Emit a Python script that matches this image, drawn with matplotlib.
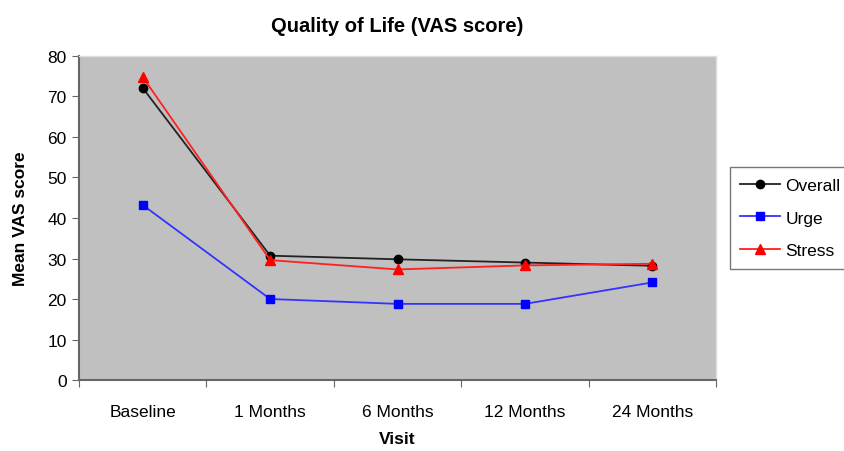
import numpy as np
import matplotlib.pyplot as plt

plt.rcParams['font.family'] = ['Liberation Sans', 'DejaVu Sans']

visits = ['Baseline', '1 Months', '6 Months', '12 Months', '24 Months']
overall = [72.1, 30.7, 29.8, 29.0, 28.2]
urge = [43.2, 20.0, 18.8, 18.8, 24.1]
stress = [74.8, 29.6, 27.3, 28.3, 28.7]

fig = plt.figure(figsize=(8.45, 4.52), dpi=100)
ax = fig.add_axes([0.0935, 0.157, 0.754, 0.717])
ax.set_facecolor('#c0c0c0')

x = np.arange(len(visits))
ax.plot(x, overall, color='#222222', lw=1.3, marker='o', ms=6, mfc='black', mec='black', label='Overall')
ax.plot(x, urge, color='#3333ff', lw=1.3, marker='s', ms=6, mfc='#0000ff', mec='#0000ff', label='Urge')
ax.plot(x, stress, color='#ff2020', lw=1.3, marker='^', ms=7, mfc='#ff0000', mec='#ff0000', label='Stress')

ax.set_xlim(-0.5, len(visits) - 0.5)
ax.set_ylim(0, 80)
ax.set_yticks(np.arange(0, 81, 10))
ax.set_xticks(np.arange(-0.5, len(visits), 1.0))
ax.set_xticklabels([])
ax.set_xticks(x, minor=True)
ax.set_xticklabels(visits, minor=True)
ax.tick_params(axis='x', which='minor', length=0, pad=17, labelsize=12.5)
ax.tick_params(axis='x', which='major', length=5, direction='out', color='#666666')
ax.tick_params(axis='y', length=5, direction='out', color='#666666', labelsize=12.5, pad=4)

for side in ['left', 'bottom']:
    ax.spines[side].set_color('#666666')
    ax.spines[side].set_linewidth(1.5)
for side in ['top', 'right']:
    ax.spines[side].set_color('#dddddd')
    ax.spines[side].set_linewidth(1.0)

ax.set_title('Quality of Life (VAS score)', fontsize=14.5, fontweight='bold', pad=18)
ax.set_xlabel('Visit', fontsize=12.5, fontweight='bold', labelpad=9)
ax.set_ylabel('Mean VAS score', fontsize=12.5, fontweight='bold', labelpad=14)

leg = ax.legend(loc='center left', bbox_to_anchor=(1.008, 0.50), fontsize=12.5,
                frameon=True, fancybox=False, edgecolor='#555555',
                handlelength=2.3, borderpad=0.6, labelspacing=1.0, handletextpad=0.3)
leg.get_frame().set_linewidth(1.0)

fig.savefig('out.png', dpi=100)
